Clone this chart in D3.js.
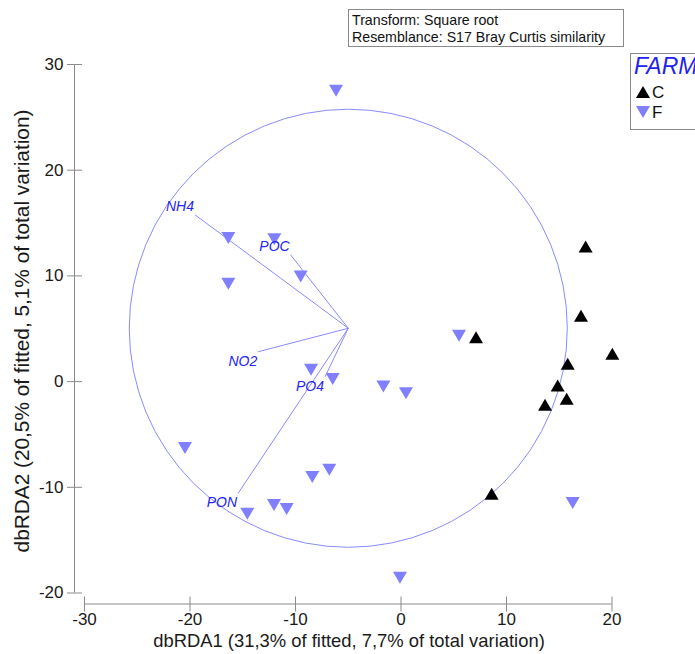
<!DOCTYPE html>
<html>
<head>
<meta charset="utf-8">
<script src="https://cdn.jsdelivr.net/npm/d3@7"></script>
<style>
  html, body { margin: 0; padding: 0; background: #fff; }
  svg { display: block; font-family: Arial, "Liberation Sans", sans-serif; }
</style>
</head>
<body>
<svg id="chart" width="695" height="654"></svg>
<script>
// dbRDA ordination scores, farm C sites
const cSitesX = [17.55, 17.11, 7.16, 20.08, 15.85, 14.90, 15.75, 13.70, 8.64];
const cSitesY = [12.73, 6.18, 4.16, 2.58, 1.64, -0.42, -1.67, -2.24, -10.66];

// dbRDA ordination scores, farm F sites
const fSitesX = [-6.11, -16.32, -11.96, -9.46, -16.32, -8.48, -6.43, 5.55, -1.62,
                 0.52, -20.43, -6.75, -8.36, -11.99, -10.79, -14.52, 16.32, -0.05];
const fSitesY = [27.46, 13.53, 13.43, 9.90, 9.21, 1.07, 0.19, 4.29, -0.51,
                 -1.14, -6.34, -8.39, -9.08, -11.73, -12.11, -12.55, -11.54, -18.61];

// Predictor vectors (multiple partial correlations, unit circle)
const vectorNames = ["NH4", "POC", "NO2", "PO4", "PON"];
const vectorX = [-0.700, -0.263, -0.411, -0.106, -0.503];
const vectorY = [0.517, 0.334, -0.107, -0.221, -0.752];
const circleCenter = [-4.95, 5.0];
const circleRadius = 20.76;

const xTicks = [-30, -20, -10, 0, 10, 20];
const yTicks = [-20, -10, 0, 10, 20, 30];

const legendGroups = ["C", "F"];
const notes = ["Transform: Square root", "Resemblance: S17 Bray Curtis similarity"];

const svg = d3.select("#chart");
svg.append("rect").attr("width", 695).attr("height", 654).attr("fill", "#fff");

const x = d3.scaleLinear().domain([-30, 20]).range([84, 611.5]);
const y = d3.scaleLinear().domain([-20, 30]).range([592.5, 64]);

const axisColor = "#8a8a8a";
const labelColor = "#1a1a1a";
const vecColor = "#8a8aff";
const fColor = "#7f7fff";

// Y axis
const yAxis = svg.append("g")
  .attr("transform", "translate(74.5,0)")
  .call(d3.axisLeft(y).tickValues(yTicks).tickSize(0).tickPadding(11).tickFormat(d3.format("d")));
yAxis.select(".domain").attr("stroke", axisColor).attr("d", `M0,${y(30)}V${y(-20)}`);
yAxis.selectAll(".tick line").attr("x1", -7.5).attr("x2", 7.5).attr("stroke", axisColor);
yAxis.selectAll(".tick text").attr("fill", labelColor).style("font-size", "17px")
  .text(d => d < 0 ? "-" + Math.abs(d) : d);

// X axis
const xAxis = svg.append("g")
  .attr("transform", "translate(0,604)")
  .call(d3.axisBottom(x).tickValues(xTicks).tickSize(0).tickPadding(9));
xAxis.select(".domain").attr("stroke", axisColor).attr("d", `M${x(-30)},0H${x(20)}`);
xAxis.selectAll(".tick line").attr("y1", -7.5).attr("y2", 7.5).attr("stroke", axisColor);
xAxis.selectAll(".tick text").attr("fill", labelColor).style("font-size", "17px")
  .text(d => d < 0 ? "-" + Math.abs(d) : d);

// Axis titles
svg.append("text")
  .attr("x", 349).attr("y", 647)
  .attr("text-anchor", "middle")
  .attr("fill", labelColor).style("font-size", "18.4px")
  .text("dbRDA1 (31,3% of fitted, 7,7% of total variation)");
svg.append("text")
  .attr("transform", "translate(29,331) rotate(-90)")
  .attr("text-anchor", "middle")
  .attr("fill", labelColor).style("font-size", "20.8px")
  .text("dbRDA2 (20,5% of fitted, 5,1% of total variation)");

// Correlation circle and vectors
const cx = x(circleCenter[0]), cy = y(circleCenter[1]);
const rPx = x(circleCenter[0] + circleRadius) - cx;
svg.append("circle")
  .attr("cx", cx).attr("cy", cy).attr("r", rPx)
  .attr("fill", "none").attr("stroke", vecColor).attr("stroke-width", 1);

const vectors = vectorNames.map((name, i) => ({
  name,
  ex: x(circleCenter[0] + vectorX[i] * circleRadius),
  ey: y(circleCenter[1] + vectorY[i] * circleRadius),
  up: vectorY[i] > 0
}));
svg.append("g").selectAll("line").data(vectors).join("line")
  .attr("x1", cx).attr("y1", cy)
  .attr("x2", d => d.ex).attr("y2", d => d.ey)
  .attr("stroke", vecColor).attr("stroke-width", 1);

// Site markers
const triW = 14, triH = 12;
const upTri = `M0,${-triH / 2}L${triW / 2},${triH / 2}L${-triW / 2},${triH / 2}Z`;
const downTri = `M0,${triH / 2}L${triW / 2},${-triH / 2}L${-triW / 2},${-triH / 2}Z`;

svg.append("g").selectAll("path").data(fSitesX.map((v, i) => [v, fSitesY[i]])).join("path")
  .attr("d", downTri)
  .attr("transform", d => `translate(${x(d[0])},${y(d[1])})`)
  .attr("fill", fColor);

svg.append("g").selectAll("path").data(cSitesX.map((v, i) => [v, cSitesY[i]])).join("path")
  .attr("d", upTri)
  .attr("transform", d => `translate(${x(d[0])},${y(d[1])})`)
  .attr("fill", "#000");

// Vector labels
svg.append("g").selectAll("text").data(vectors).join("text")
  .attr("x", d => d.ex - 1)
  .attr("y", d => d.up ? d.ey - 4 : d.ey + 14)
  .attr("text-anchor", "end")
  .attr("fill", "#2424f4")
  .style("font-size", "14px").style("font-style", "italic")
  .text(d => d.name);

// Notes box
const notesG = svg.append("g");
notesG.append("rect")
  .attr("x", 348.5).attr("y", 9.5).attr("width", 275).attr("height", 37)
  .attr("fill", "#fff").attr("stroke", "#8a8a8a");
notesG.selectAll("text").data(notes).join("text")
  .attr("x", 352).attr("y", (d, i) => 25 + i * 16.5)
  .attr("fill", "#111").style("font-size", "14.2px")
  .text(d => d);

// Legend
const leg = svg.append("g");
leg.append("rect")
  .attr("x", 630.5).attr("y", 53.5).attr("width", 80).attr("height", 76)
  .attr("fill", "#fff").attr("stroke", "#8a8a8a");
leg.append("text")
  .attr("x", 634).attr("y", 74)
  .attr("fill", "#2222ee").style("font-size", "23px").style("font-style", "italic")
  .text("FARM");
leg.selectAll(".item").data(legendGroups).join("g")
  .attr("class", "item")
  .attr("transform", (d, i) => `translate(643,${92 + i * 20})`)
  .each(function (d) {
    const g = d3.select(this);
    g.append("path").attr("d", d === "C" ? upTri : downTri)
      .attr("fill", d === "C" ? "#000" : fColor);
    g.append("text").attr("x", 9).attr("y", 6)
      .attr("fill", "#111").style("font-size", "17px").text(d);
  });
</script>
</body>
</html>
